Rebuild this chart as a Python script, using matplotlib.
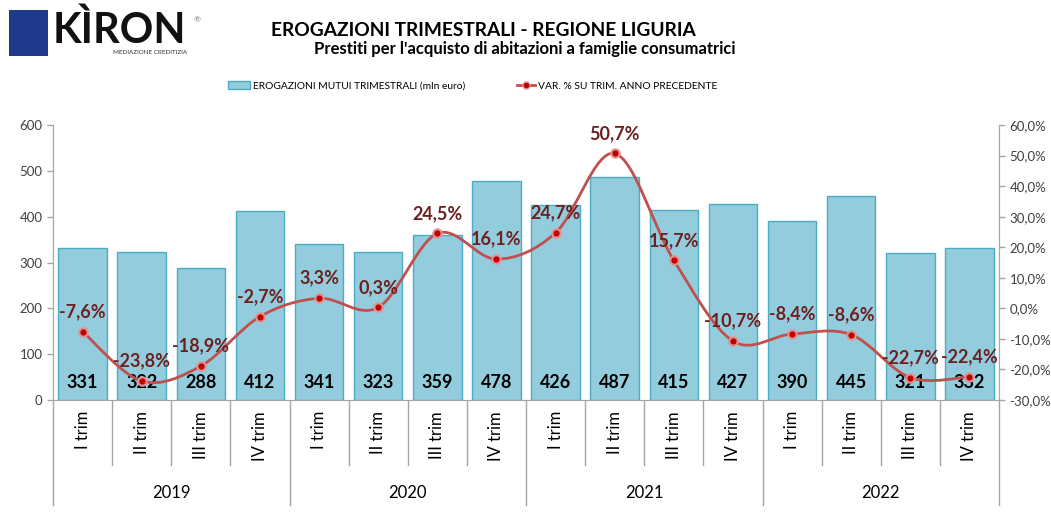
import matplotlib.pyplot as plt
import numpy as np
from matplotlib.path import Path
from matplotlib.patches import PathPatch, Rectangle
from matplotlib.lines import Line2D
import matplotlib.transforms as mtransforms

plt.rcParams['font.family'] = ['Lato', 'DejaVu Sans']

years = ['2019', '2020', '2021', '2022']
quarters = ['I trim', 'II trim', 'III trim', 'IV trim']
erogazioni = [331, 322, 288, 412, 341, 323, 359, 478, 426, 487, 415, 427, 390, 445, 321, 332]
var_pct = [-7.6, -23.8, -18.9, -2.7, 3.3, 0.3, 24.5, 16.1, 24.7, 50.7, 15.7, -10.7, -8.4, -8.6, -22.7, -22.4]

bar_fill = '#93cddd'
bar_edge = '#4bacc6'
line_col = '#c0504d'
lab_red = '#6e1f1f'
grey = '#a6a6a6'
tick_col = '#404040'

fig = plt.figure(figsize=(10.51, 5.26), dpi=100)
ax = fig.add_axes([53/1051, 1-400/526, 946/1051, 275/526])
ax2 = ax.twinx()

n = len(erogazioni)
x = np.arange(n)

ax.bar(x, erogazioni, width=0.82, color=bar_fill, edgecolor=bar_edge, linewidth=1, zorder=2)
ax.set_xlim(-0.5, n - 0.5)
ax.set_ylim(0, 600)
ax.set_yticks(range(0, 601, 100))
ax.set_xticks([])

ax2.set_ylim(-30, 60)
ax2.set_yticks(range(-30, 61, 10))
ax2.set_yticklabels([('%.1f%%' % v).replace('.', ',') for v in range(-30, 61, 10)])

for a in (ax, ax2):
    a.spines['top'].set_visible(False)
    for s in ('left', 'right', 'bottom'):
        a.spines[s].set_color(grey)
    a.tick_params(axis='y', colors=grey, labelcolor=tick_col, labelsize=9.5, length=4, width=1)
ax2.spines['bottom'].set_visible(False)

# smoothed line (bezier through the points, like excel)
pts = np.column_stack([x, var_pct]).astype(float)
ext = np.vstack([pts[0], pts, pts[-1]])
verts = [tuple(pts[0])]
codes = [Path.MOVETO]
for i in range(n - 1):
    p0, p1, p2, p3 = ext[i], ext[i + 1], ext[i + 2], ext[i + 3]
    c1 = p1 + (p2 - p0) / 6.0
    c2 = p2 - (p3 - p1) / 6.0
    verts += [tuple(c1), tuple(c2), tuple(p2)]
    codes += [Path.CURVE4] * 3
ax2.add_patch(PathPatch(Path(verts, codes), facecolor='none', edgecolor=line_col, lw=2, zorder=3))
ax2.plot(x, var_pct, ls='none', marker='o', ms=6, mfc='#c00000', mec='#e3908e', mew=1.5, zorder=4)

for xi, v in zip(x, erogazioni):
    ax.annotate(str(v), (xi, 0), xytext=(0, 17), textcoords='offset pixels', ha='center', va='center',
                fontsize=13, fontweight='bold', color='black', zorder=6, annotation_clip=False)
for xi, v in zip(x, var_pct):
    ax2.annotate(('%.1f%%' % v).replace('.', ','), (xi, v), xytext=(0, 20), textcoords='offset pixels',
                 ha='center', va='center', fontsize=13, fontweight='bold', color=lab_red, zorder=6)

# category axis below
tr = mtransforms.blended_transform_factory(ax.transData, ax.transAxes)
for k in range(n + 1):
    b = k - 0.5
    bottom = -105/275 if k % 4 == 0 else -65/275
    ax.add_line(Line2D([b, b], [0, bottom], transform=tr, color=grey, lw=1, clip_on=False))
for k in range(n):
    ax.text(k, -11/275, quarters[k % 4], transform=tr, rotation=90, ha='center', va='top',
            fontsize=12, color='black')
for j, yr in enumerate(years):
    ax.text(4 * j + 1.5, -93/275, yr, transform=tr, ha='center', va='center', fontsize=12, color='black')

# legend
h1 = Rectangle((0, 0), 1, 1, facecolor=bar_fill, edgecolor=bar_edge)
h2 = Line2D([], [], color=line_col, lw=2, marker='o', ms=5, mfc='#c00000', mec='#e3908e')
fs_leg = 7.4
px = fs_leg * 100 / 72
fig.legend([h1], ['EROGAZIONI MUTUI TRIMESTRALI (mln euro)'], loc='center left',
           bbox_to_anchor=(228/1051, 1-86/526), frameon=False, fontsize=fs_leg, borderpad=0,
           borderaxespad=0, handlelength=22/px, handleheight=0.75, handletextpad=3/px)
fig.legend([h2], ['VAR. % SU TRIM. ANNO PRECEDENTE'], loc='center left',
           bbox_to_anchor=(517/1051, 1-86/526), frameon=False, fontsize=fs_leg, borderpad=0,
           borderaxespad=0, handlelength=18/px, handletextpad=3/px)

# titles
fig.text(483/1051, 1-31/526, 'EROGAZIONI TRIMESTRALI - REGIONE LIGURIA', ha='center', va='center',
         fontsize=13.8, fontweight='bold')
fig.text(525/1051, 1-49/526, "Prestiti per l'acquisto di abitazioni a famiglie consumatrici", ha='center',
         va='center', fontsize=12, fontweight='bold')

# logo
fig.patches.append(Rectangle((9/1051, 1-56/526), 39/1051, 46/526, transform=fig.transFigure,
                             facecolor='#1f3a8a', edgecolor='none'))
fig.text(53/1051, 1-30/526, 'KÌRON', ha='left', va='center', fontsize=30, fontweight='bold', color='#111111')
fig.text(197/1051, 1-20/526, '®', ha='center', va='center', fontsize=6, color='#777777')
fig.text(150/1051, 1-52/526, 'MEDIAZIONE CREDITIZIA', ha='center', va='center', fontsize=4.5, color='#333333')

fig.savefig('out.png', dpi=100)
